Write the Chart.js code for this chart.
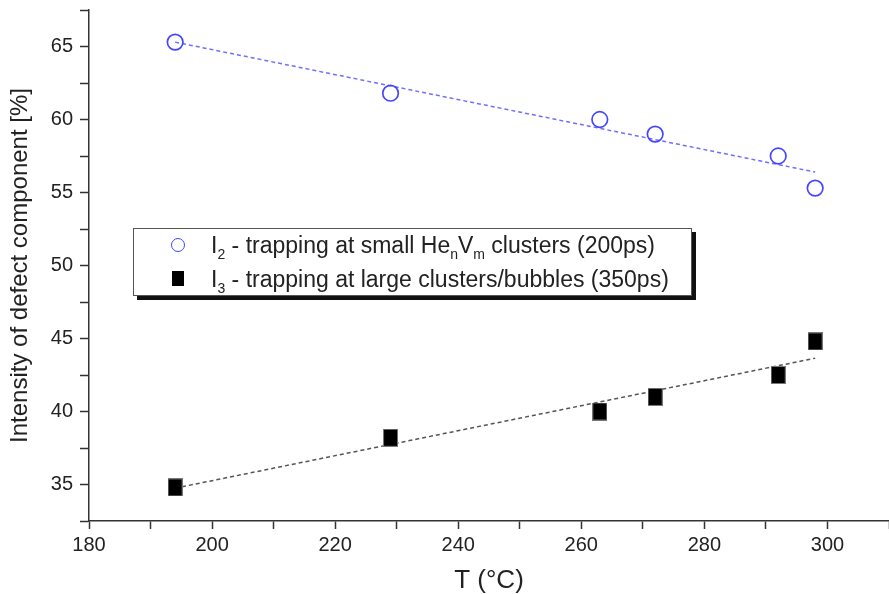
<!DOCTYPE html>
<html>
<head>
<meta charset="utf-8">
<script src="https://cdn.jsdelivr.net/npm/chart.js@4.4.1/dist/chart.umd.min.js"></script>
<style>
  html, body { margin: 0; padding: 0; background: #fff; }
  #wrap { position: relative; width: 889px; height: 594px; overflow: hidden; }
  #legend {
    position: absolute; left: 133px; top: 228px; width: 557px; height: 66px;
    border: 1px solid #555; background: #fff; box-shadow: 4px 4px 0 #111;
    font-family: "Liberation Sans", Arial, sans-serif; font-size: 23px; color: #222;
  }
  .row { position: absolute; left: 0; height: 30px; line-height: 30px; white-space: nowrap; }
  .row .txt { position: absolute; left: 77px; top: 0; }
  .row sub { font-size: 14px; vertical-align: -6px; line-height: 0; }
  .mk-circle { position: absolute; left: 37px; top: 8px; width: 12px; height: 12px; border: 1.6px solid #4646ff; border-radius: 50%; }
  .mk-square { position: absolute; left: 38px; top: 7px; width: 12px; height: 15px; background: #000; }
</style>
</head>
<body>
<div id="wrap">
  <canvas id="c" width="889" height="594"></canvas>
  <div id="legend">
    <div class="row" style="top:1px;"><span class="mk-circle"></span><span class="txt">I<sub>2</sub> - trapping at small He<sub>n</sub>V<sub>m</sub> clusters (200ps)</span></div>
    <div class="row" style="top:35px;"><span class="mk-square"></span><span class="txt">I<sub>3</sub> - trapping at large clusters/bubbles (350ps)</span></div>
  </div>
</div>
<script>
// ---- data ----
const temperatures = [194, 229, 263, 272, 292, 298];
const intensityI2 = [65.3, 61.8, 60.0, 59.0, 57.5, 55.3];
const intensityI3 = [34.8, 38.2, 40.0, 41.0, 42.5, 44.8];
const fitTemps = [194, 298];
const fitI2 = [65.3, 56.4];
const fitI3 = [34.75, 43.65];
const xTickLabels = [180, 200, 220, 240, 260, 280, 300];
const yTickLabels = [35, 40, 45, 50, 55, 60, 65];

const pts = (xs, ys) => xs.map((x, i) => ({ x: x, y: ys[i] }));

// square marker (slightly tall, as in reference)
const sq = document.createElement('canvas');
sq.width = 15; sq.height = 18;
const sctx = sq.getContext('2d');
sctx.fillStyle = '#777'; sctx.fillRect(0, 0, 15, 18);
sctx.fillStyle = '#000'; sctx.fillRect(1, 1, 13, 16);

const FONT = "'Liberation Sans', Arial, sans-serif";

new Chart(document.getElementById('c'), {
  type: 'scatter',
  data: {
    datasets: [
      {
        label: 'I2', data: pts(temperatures, intensityI2),
        pointStyle: 'circle', pointRadius: 7.8, borderWidth: 1.7,
        borderColor: '#4646ff', backgroundColor: 'rgba(0,0,0,0)'
      },
      {
        label: 'I3', data: pts(temperatures, intensityI3),
        pointStyle: sq
      },
      {
        label: 'fit I2', data: pts(fitTemps, fitI2), showLine: true,
        borderColor: '#6f6fff', borderWidth: 1.5, borderDash: [4, 3], pointRadius: 0
      },
      {
        label: 'fit I3', data: pts(fitTemps, fitI3), showLine: true,
        borderColor: '#555', borderWidth: 1.5, borderDash: [4, 3], pointRadius: 0
      }
    ]
  },
  options: {
    responsive: false,
    animation: false,
    devicePixelRatio: 1,
    layout: { autoPadding: false, padding: { top: 10, right: 0, left: 0, bottom: 0 } },
    plugins: { legend: { display: false }, tooltip: { enabled: false } },
    scales: {
      x: {
        type: 'linear', min: 180, max: 310,
        afterFit: s => { s.height = 73; s.paddingRight = 0; s.paddingLeft = 0; },
        border: { display: true, color: '#333', width: 1.5 },
        grid: { drawOnChartArea: false, drawTicks: true, tickLength: 8, tickColor: '#333', tickWidth: 1.5 },
        ticks: {
          stepSize: 10, autoSkip: false, maxRotation: 0, padding: 4,
          color: '#222', font: { family: FONT, size: 20 },
          callback: v => xTickLabels.includes(v) ? String(v) : ''
        },
        title: {
          display: true, text: 'T (°C)', color: '#222',
          font: { family: FONT, size: 26, lineHeight: 1.0 },
          padding: { top: 0, bottom: 0 }
        }
      },
      y: {
        type: 'linear', min: 32.5, max: 67.5,
        afterFit: s => { s.width = 89; s.paddingTop = 0; s.paddingBottom = 0; },
        border: { display: true, color: '#333', width: 1.5 },
        grid: { drawOnChartArea: false, drawTicks: true, tickLength: 9, tickColor: '#333', tickWidth: 1.5 },
        ticks: {
          stepSize: 2.5, autoSkip: false, padding: 7,
          color: '#222', font: { family: FONT, size: 20 },
          callback: v => yTickLabels.includes(v) ? String(v) : ''
        },
        title: {
          display: true, text: 'Intensity of defect component [%]', color: '#222',
          font: { family: FONT, size: 24, lineHeight: 1.2 },
          padding: { top: 6, bottom: 0 }
        }
      }
    }
  }
});
</script>
</body>
</html>
